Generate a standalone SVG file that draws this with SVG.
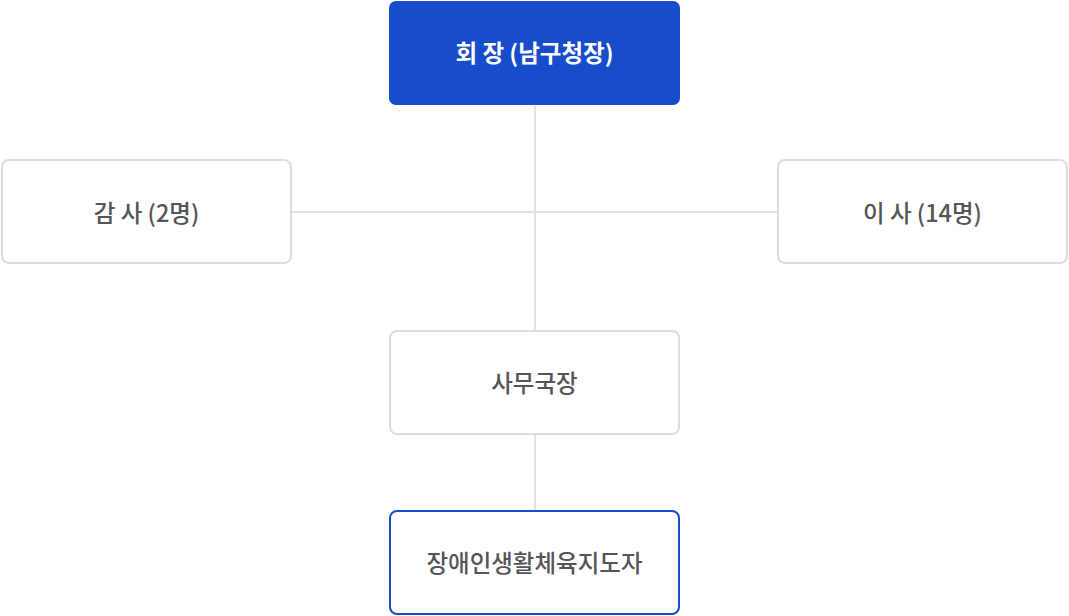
<svg xmlns="http://www.w3.org/2000/svg" width="1069" height="616" viewBox="0 0 1069 616">
<style>
.box{fill:#ffffff;stroke:#dddddd;stroke-width:2}
.lbl{font-family:"Noto Sans CJK KR","Noto Sans",sans-serif;font-size:23.5px;font-weight:500;fill:#555555;text-anchor:middle;dominant-baseline:central}
.con{stroke:#e2e2e2;stroke-width:2;fill:none}
</style>
<rect width="1069" height="616" fill="#ffffff"/>
<g id="connectors">
<line class="con" x1="535" y1="105" x2="535" y2="331"/>
<line class="con" x1="291" y1="212" x2="778" y2="212"/>
<line class="con" x1="535" y1="435" x2="535" y2="511"/>
</g>
<g id="chair">
<rect x="389" y="1" width="291" height="104" rx="7" fill="#174ccb"/>
<text class="lbl" x="534.5" y="52" style="fill:#ffffff;font-weight:700">회 장 (남구청장)</text>
</g>
<g id="auditor">
<rect class="box" x="2" y="160" width="289" height="103" rx="7"/>
<text class="lbl" x="146.5" y="212">감 사 (2명)</text>
</g>
<g id="director">
<rect class="box" x="778" y="160" width="289" height="103" rx="7"/>
<text class="lbl" x="922.5" y="212">이 사 (14명)</text>
</g>
<g id="secretary">
<rect class="box" x="390" y="331" width="289" height="103" rx="7"/>
<text class="lbl" x="534.5" y="382">사무국장</text>
</g>
<g id="instructor">
<rect x="390" y="511" width="289" height="103" rx="7" fill="#ffffff" stroke="#174ccb" stroke-width="2"/>
<text class="lbl" x="534.5" y="562">장애인생활체육지도자</text>
</g>
</svg>
